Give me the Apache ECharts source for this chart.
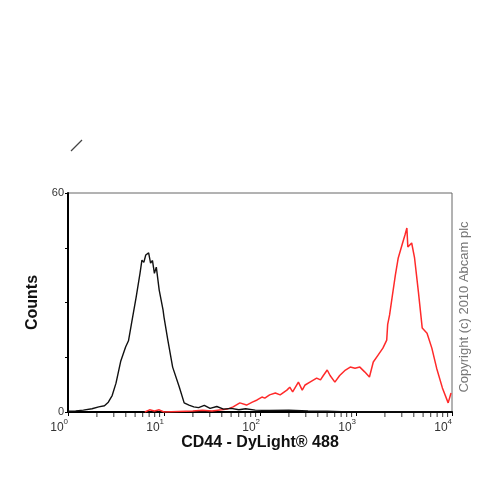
<!DOCTYPE html>
<html>
<head>
<meta charset="utf-8">
<script src="https://cdn.jsdelivr.net/npm/echarts@6/dist/echarts.min.js"></script>
<style>html,body{margin:0;padding:0;background:#fff}#c{width:500px;height:500px}</style>
</head>
<body>
<div id="c"></div>
<script>
// x positions are log10 of fluorescence intensity
var blackX = [0.00,0.08,0.16,0.25,0.32,0.38,0.42,0.46,0.50,0.55,0.60,0.63,0.66,0.71,0.75,0.77,0.79,0.81,0.83,0.84,0.86,0.88,0.90,0.92,0.95,0.99,1.00,1.04,1.09,1.16,1.21,1.26,1.31,1.36,1.42,1.48,1.55,1.62,1.70,1.78,1.85,1.95,2.10,2.30,2.50,2.70,2.85,3.00,4.00];
var blackY = [0.2,0.3,0.5,0.9,1.4,1.7,2.7,4.5,7.9,14,17.8,19.5,24,31.5,38,41.6,41.0,43,42.5,43.6,40.8,41.5,38,39.7,33.4,28,26,19.7,12.3,6.8,2.5,1.9,1.4,1.2,1.8,1.0,1.5,0.8,1.0,0.6,0.9,0.5,0.4,0.5,0.3,0.2,0.1,0,0];
var redX = [0.80,0.85,0.90,0.95,1.00,1.30,1.40,1.50,1.60,1.66,1.72,1.79,1.86,1.92,1.97,2.02,2.05,2.10,2.16,2.21,2.28,2.31,2.34,2.40,2.44,2.47,2.52,2.59,2.63,2.66,2.70,2.73,2.78,2.83,2.89,2.94,2.99,3.04,3.09,3.14,3.18,3.23,3.28,3.32,3.33,3.35,3.375,3.41,3.44,3.48,3.51,3.53,3.54,3.58,3.61,3.65,3.69,3.74,3.79,3.84,3.90,3.96,3.99];
var redY = [0,0.6,0.3,0.6,0,0.3,0.5,0.3,0.6,0.8,1.4,2.5,1.9,2.7,3.3,4.1,3.8,4.7,5.2,4.7,6,6.8,5.5,8.2,6,7.4,8.2,9.3,8.8,10,11.5,10,8.2,10,11.5,12.3,12,12.3,11,9.6,13.7,15.6,17.5,19.7,24,26.6,31.2,37.5,42.2,45.8,48.5,50.4,45.2,46.3,42.2,32.9,23,21.6,17.5,12,6.6,2.5,5.2];
var majorTicks = [0,1,2,3,4];
var minorTickValues = [2,3,4,5,6,7,8,9,20,30,40,50,60,70,80,90,200,300,400,500,600,700,800,900,2000,3000,4000,5000,6000,7000,8000,9000];
var yTickLabels = {0:'0',60:'60'};

function pairs(xs, ys){ return xs.map(function(x,i){ return [x, ys[i]]; }); }

var chart = echarts.init(document.getElementById('c'));
chart.setOption({
  animation:false,
  backgroundColor:'#fff',
  grid:{left:68,right:48,top:193,bottom:88,show:true,borderColor:'#666',borderWidth:1,backgroundColor:'transparent'},
  xAxis:{
    type:'value',min:0,max:4,interval:1,
    name:'CD44 - DyLight® 488',nameLocation:'middle',nameGap:23,
    nameTextStyle:{fontFamily:'Liberation Sans, Arial',fontWeight:'bold',fontSize:16,color:'#111',verticalAlign:'top'},
    axisLine:{lineStyle:{color:'#000',width:2}},
    axisTick:{show:true,inside:false,length:4,lineStyle:{color:'#000',width:1}},
    splitLine:{show:false},
    axisLabel:{
      margin:6,align:'right',color:'#333',fontFamily:'Liberation Sans, Arial',fontSize:12,
      formatter:function(v){ return '{b|10}{s|'+v+'}'; },
      rich:{b:{fontSize:12,color:'#333',fontFamily:'Liberation Sans, Arial',lineHeight:16,verticalAlign:'bottom'},
            s:{fontSize:8,color:'#333',fontFamily:'Liberation Sans, Arial',lineHeight:16,verticalAlign:'top'}}
    }
  },
  yAxis:{
    type:'value',min:0,max:60,interval:15,
    name:'Counts',nameLocation:'middle',nameGap:22,
    nameTextStyle:{fontFamily:'Liberation Sans, Arial',fontWeight:'bold',fontSize:16,color:'#111'},
    axisLine:{show:true,lineStyle:{color:'#000',width:2}},
    axisTick:{show:true,length:3,lineStyle:{color:'#000',width:1}},
    splitLine:{show:false},
    axisLabel:{margin:4,color:'#333',fontFamily:'Liberation Sans, Arial',fontSize:11,
      formatter:function(v){ return yTickLabels[v] !== undefined ? yTickLabels[v] : ''; }}
  },
  series:[
    {type:'scatter',data:minorTickValues.map(function(v){return [Math.log10(v),0];}),
     symbol:'rect',symbolSize:[1,4],symbolOffset:[0,3],clip:false,silent:true,
     itemStyle:{color:'#000'},z:1},
    {type:'line',data:pairs(redX,redY),showSymbol:false,symbol:'none',
     lineStyle:{color:'#ff2a2a',width:1.5},z:3},
    {type:'line',data:pairs(blackX,blackY),showSymbol:false,symbol:'none',
     lineStyle:{color:'#111',width:1.4},z:4}
  ],
  graphic:[
    {type:'text',x:464,y:307,rotation:Math.PI/2,
     style:{text:'Copyright (c) 2010 Abcam plc',fill:'#777',font:'13px Liberation Sans, Arial',align:'center',verticalAlign:'middle'}},
    {type:'line',shape:{x1:71,y1:151,x2:82,y2:140},style:{stroke:'#444',lineWidth:1.2}}
  ]
});
</script>
</body>
</html>
